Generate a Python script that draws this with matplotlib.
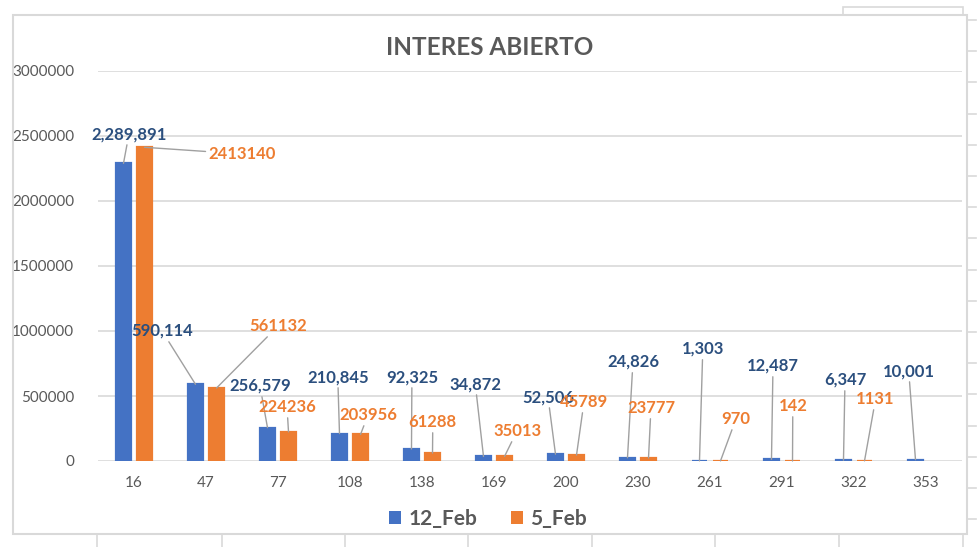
import numpy as np
import matplotlib
matplotlib.use("Agg")
import matplotlib.pyplot as plt
from matplotlib.patches import Rectangle, Patch
from matplotlib.lines import Line2D

plt.rcParams['font.family'] = ['Lato', 'DejaVu Sans']

categories = ["16", "47", "77", "108", "138", "169", "200", "230", "261", "291", "322", "353"]
feb12 = [2289891, 590114, 256579, 210845, 92325, 34872, 52506, 24826, 1303, 12487, 6347, 10001]
feb5 = [2413140, 561132, 224236, 203956, 61288, 35013, 45789, 23777, 970, 142, 1131, np.nan]
feb12_labels = ["2,289,891", "590,114", "256,579", "210,845", "92,325", "34,872", "52,506",
                "24,826", "1,303", "12,487", "6,347", "10,001"]
feb5_labels = ["2413140", "561132", "224236", "203956", "61288", "35013", "45789",
               "23777", "970", "142", "1131", ""]
yticks = [0, 500000, 1000000, 1500000, 2000000, 2500000, 3000000]

# label placements (category offset, y position) -- layout only
blue_pos = [(-0.07, 2515000), (0.39, 1000000), (1.75, 577000), (2.83, 646000), (3.86, 646000),
            (4.74, 592000), (5.75, 492000), (6.93, 762000), (7.90, 862000), (8.875, 731000),
            (9.875, 623000), (10.76, 692000)]
orange_pos = [(1.5, 2362000), (2.0, 1038000), (2.125, 415000), (3.25, 354000), (4.15, 300000),
              (5.32, 231000), (6.25, 454000), (7.18, 408000), (8.36, 323000), (9.15, 423000),
              (10.3, 477000), None]

BLUE = "#4472C4"
ORANGE = "#ED7D31"
BLUE_TXT = "#2B4F7E"
GRAY = "#595959"
GRID = "#D9D9D9"
LEADER = "#A0A0A0"

W, H = 980, 547
fig = plt.figure(figsize=(W / 100, H / 100), dpi=100)

def fx(p):
    return p / W

def fy(p):
    return 1 - p / H

ax = fig.add_axes([fx(98), fy(461), fx(962) - fx(98), fy(71) - fy(461)])
x = np.arange(len(categories))
bw = 0.203
off = 0.146
ax.bar(x - off, feb12, width=bw, color=BLUE, edgecolor=BLUE, linewidth=1.6, zorder=3)
ax.bar(x + off, feb5, width=bw, color=ORANGE, edgecolor=ORANGE, linewidth=1.6, zorder=3)

ax.set_xlim(-0.5, len(categories) - 0.5)
ax.set_ylim(0, 3000000)
ax.set_yticks(yticks)
ax.set_yticklabels([str(v) for v in yticks])
ax.set_xticks(x)
ax.set_xticklabels(categories)
ax.tick_params(axis='both', length=0, labelsize=11, labelcolor=GRAY)
ax.tick_params(axis='y', pad=17)
ax.tick_params(axis='x', pad=11)
ax.grid(axis='y', color=GRID, linewidth=1.2, zorder=0)
ax.set_axisbelow(True)
for s in ax.spines.values():
    s.set_visible(False)

lbl_kw = dict(fontsize=12, fontweight='bold', ha='center', va='center', zorder=5,
              annotation_clip=False)
arrow_kw = dict(arrowstyle='-', color=LEADER, lw=1, shrinkA=0, shrinkB=0)
for i in range(len(categories)):
    bx, by = blue_pos[i]
    ax.annotate(feb12_labels[i], xy=(i - off, feb12[i]), xytext=(bx, by), color=BLUE_TXT,
                arrowprops=arrow_kw, **lbl_kw)
    if orange_pos[i] is not None and not np.isnan(feb5[i]):
        ox, oy = orange_pos[i]
        ax.annotate(feb5_labels[i], xy=(i + off, feb5[i]), xytext=(ox, oy), color=ORANGE,
                    arrowprops=arrow_kw, **lbl_kw)

fig.text(fx(490), fy(48), "INTERES ABIERTO", ha='center', va='center', fontsize=17.5,
         fontweight='bold', color=GRAY)

handles = [Patch(facecolor=BLUE, edgecolor='none'), Patch(facecolor=ORANGE, edgecolor='none')]
leg = fig.legend(handles, ["12_Feb", "5_Feb"], loc='center', bbox_to_anchor=(fx(488), fy(519)),
                 ncol=2, frameon=False, prop={'size': 15, 'weight': 'bold'},
                 handlelength=0.6, handleheight=0.6, handletextpad=0.35, columnspacing=1.6)
for t in leg.get_texts():
    t.set_color(GRAY)

# chart frame and surrounding sheet lines
fig.patches.append(Rectangle((fx(13), fy(534)), fx(967) - fx(13), fy(15) - fy(534),
                             transform=fig.transFigure, fill=False, edgecolor=GRID, lw=1.5))
fig.patches.append(Rectangle((fx(843), fy(15)), fx(963) - fx(843), fy(7) - fy(15),
                             transform=fig.transFigure, fill=False, edgecolor=GRID, lw=1.2))
for px in [97, 222, 345, 468, 592, 715, 839, 963]:
    fig.lines.append(Line2D([fx(px), fx(px)], [fy(534), fy(547)], transform=fig.transFigure,
                            color=GRID, lw=1.2))
for k in range(17):
    py = 20 + 31.2 * k
    fig.lines.append(Line2D([fx(967), fx(976)], [fy(py), fy(py)], transform=fig.transFigure,
                            color=GRID, lw=1.2))

fig.savefig("out.png", dpi=100, facecolor='white')
